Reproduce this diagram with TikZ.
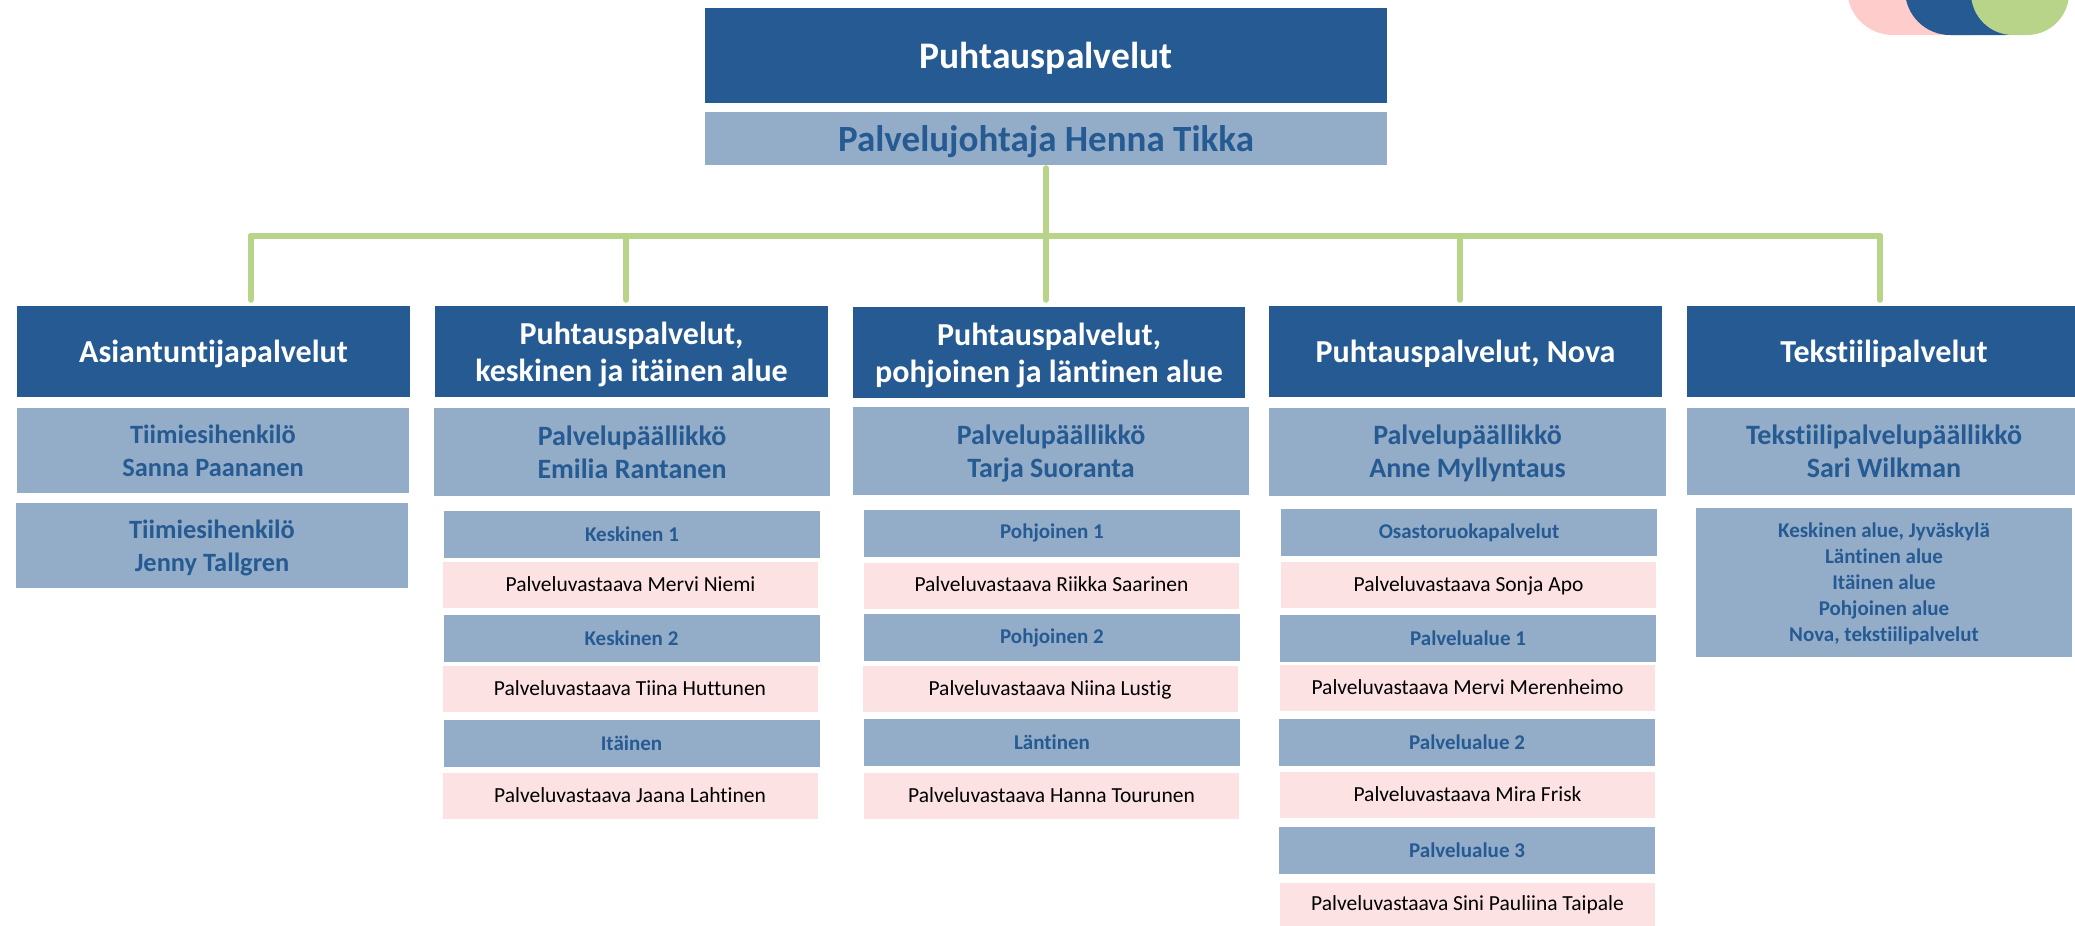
\documentclass[tikz,border=0pt]{standalone}
\usepackage{fontspec}
\setmainfont{Carlito}[Ligatures=NoCommon]
\usetikzlibrary{positioning, calc}
\definecolor{darkblue}{HTML}{265A93}
\definecolor{midblue}{HTML}{93ADC8}
\definecolor{lightpink}{HTML}{FDE2E4}
\definecolor{cornerpink}{HTML}{FFCCCC}
\definecolor{linegreen}{HTML}{B7D488}
\begin{document}
\begin{tikzpicture}[x=1pt,y=-1pt,
  anchor=center, inner sep=0pt, align=center,
  headbox/.style={fill=darkblue, text=white, minimum width=393pt, minimum height=91pt, text depth=-1pt,
    font=\fontsize{32}{37}\bfseries\selectfont},
  twoline/.style={text depth=-5pt},
  chiefbox/.style={fill=midblue, text=darkblue, minimum width=396pt, minimum height=87pt, text depth=0pt,
    font=\fontsize{28}{33}\bfseries\selectfont},
  teambox/.style={chiefbox, minimum width=392pt, minimum height=85pt,
    font=\fontsize{26.4}{32.5}\bfseries\selectfont},
  areabox/.style={fill=midblue, text=darkblue, minimum width=376pt, minimum height=47pt,
    font=\fontsize{21}{26}\bfseries\selectfont},
  personbox/.style={fill=lightpink, text=black, minimum width=375pt, minimum height=46pt, text depth=2pt,
    font=\fontsize{21.5}{24}\selectfont},
  conn/.style={draw=linegreen, line width=6pt, line cap=round},
]
  \useasboundingbox (0,0) rectangle (2075,926);

  % corner shapes
  \begin{scope}
    \clip (0,0) rectangle (2075,926);
    \fill[cornerpink, rounded corners=46pt] (1847,-120) rectangle (2020,35);
    \fill[darkblue, rounded corners=45pt] (1905,-120) rectangle (2050,35);
    \fill[linegreen, rounded corners=42pt] (1971,-120) rectangle (2069,35);
  \end{scope}

  % top
  \node[headbox, minimum width=682pt, minimum height=95pt, text depth=0pt, font=\fontsize{37.5}{44}\bfseries\selectfont] (puhtaus) at (1046,55.5) {Puhtauspalvelut};
  \node[chiefbox, minimum width=682pt, minimum height=53pt, font=\fontsize{37}{44}\bfseries\selectfont] (johtaja) at (1046,138.5) {Palvelujohtaja Henna Tikka};

  % column heads
  \node[headbox] (asia) at (213.5,351.5) {Asiantuntijapalvelut};
  \node[headbox, twoline] (keski) at (631.5,351.5) {Puhtauspalvelut,\\keskinen ja itäinen alue};
  \node[headbox, twoline, minimum width=392pt] (pohj) at (1049,352.5) {Puhtauspalvelut,\\pohjoinen ja läntinen alue};
  \node[headbox] (nova) at (1465.5,351.5) {Puhtauspalvelut, Nova};
  \node[headbox, minimum width=394pt] (tekst) at (1884,351.5) {Tekstiilipalvelut};

  % column 1
  \node[teambox] (sanna) at (213,450.5) {Tiimiesihenkilö\\Sanna Paananen};
  \node[teambox] (jenny) at (212,545.5) {Tiimiesihenkilö\\Jenny Tallgren};

  % column 2
  \node[chiefbox, minimum height=88pt] (emilia) at (632,452) {Palvelupäällikkö\\Emilia Rantanen};
  \node[areabox] (kesk1) at (632,534.5) {Keskinen 1};
  \node[personbox] (mervi) at (630.5,585) {Palveluvastaava Mervi Niemi};
  \node[areabox] (kesk2) at (631.5,638.5) {Keskinen 2};
  \node[personbox] (tiina) at (630,689) {Palveluvastaava Tiina Huttunen};
  \node[areabox] (itainen) at (631.5,743) {Itäinen};
  \node[personbox] (jaana) at (630,796) {Palveluvastaava Jaana Lahtinen};

  % column 3
  \node[chiefbox, minimum height=88pt] (tarja) at (1051,451) {Palvelupäällikkö\\Tarja Suoranta};
  \node[areabox] (pohj1) at (1052,533) {Pohjoinen 1};
  \node[personbox] (riikka) at (1051.5,585.5) {Palveluvastaava Riikka Saarinen};
  \node[areabox] (pohj2) at (1052,637.5) {Pohjoinen 2};
  \node[personbox] (niina) at (1050,689) {Palveluvastaava Niina Lustig};
  \node[areabox] (lansi) at (1052,742.5) {Läntinen};
  \node[personbox] (hanna) at (1051.5,796) {Palveluvastaava Hanna Tourunen};

  % column 4
  \node[chiefbox, minimum width=397pt, minimum height=88pt] (anne) at (1467.5,451.5) {Palvelupäällikkö\\Anne Myllyntaus};
  \node[areabox] (osasto) at (1469,532.5) {Osastoruokapalvelut};
  \node[personbox] (sonja) at (1468.5,585) {Palveluvastaava Sonja Apo};
  \node[areabox] (alue1) at (1468,638) {Palvelualue 1};
  \node[personbox] (merenh) at (1467.5,688) {Palveluvastaava Mervi Merenheimo};
  \node[areabox] (alue2) at (1467,742.5) {Palvelualue 2};
  \node[personbox] (mira) at (1467.5,795) {Palveluvastaava Mira Frisk};
  \node[areabox] (alue3) at (1467,850.5) {Palvelualue 3};
  \node[personbox, minimum height=43pt] (sini) at (1467.5,904.5) {Palveluvastaava Sini Pauliina Taipale};

  % column 5
  \node[chiefbox, minimum width=394pt, minimum height=87pt] (sari) at (1884,451.5) {Tekstiilipalvelupäällikkö\\Sari Wilkman};
  \node[areabox, minimum height=149pt, text depth=0pt] (alueet) at (1884,582.5) {Keskinen alue, Jyväskylä\\Läntinen alue\\Itäinen alue\\Pohjoinen alue\\Nova, tekstiilipalvelut};

  % connectors
  \coordinate (bus) at (1046,236);
  \coordinate (bus1) at (251,236);
  \coordinate (bus2) at (626,236);
  \coordinate (bus4) at (1460,236);
  \coordinate (bus5) at (1880,236);
  \path[conn]
    (johtaja.south) edge[shorten <=3pt] (bus)
    (bus1) edge (bus5)
    (bus1) edge[shorten >=6pt] (bus1 |- asia.north)
    (bus2) edge[shorten >=6pt] (bus2 |- keski.north)
    (bus) edge[shorten >=7pt] (bus |- pohj.north)
    (bus4) edge[shorten >=6pt] (bus4 |- nova.north)
    (bus5) edge[shorten >=6pt] (bus5 |- tekst.north);
\end{tikzpicture}
\end{document}
